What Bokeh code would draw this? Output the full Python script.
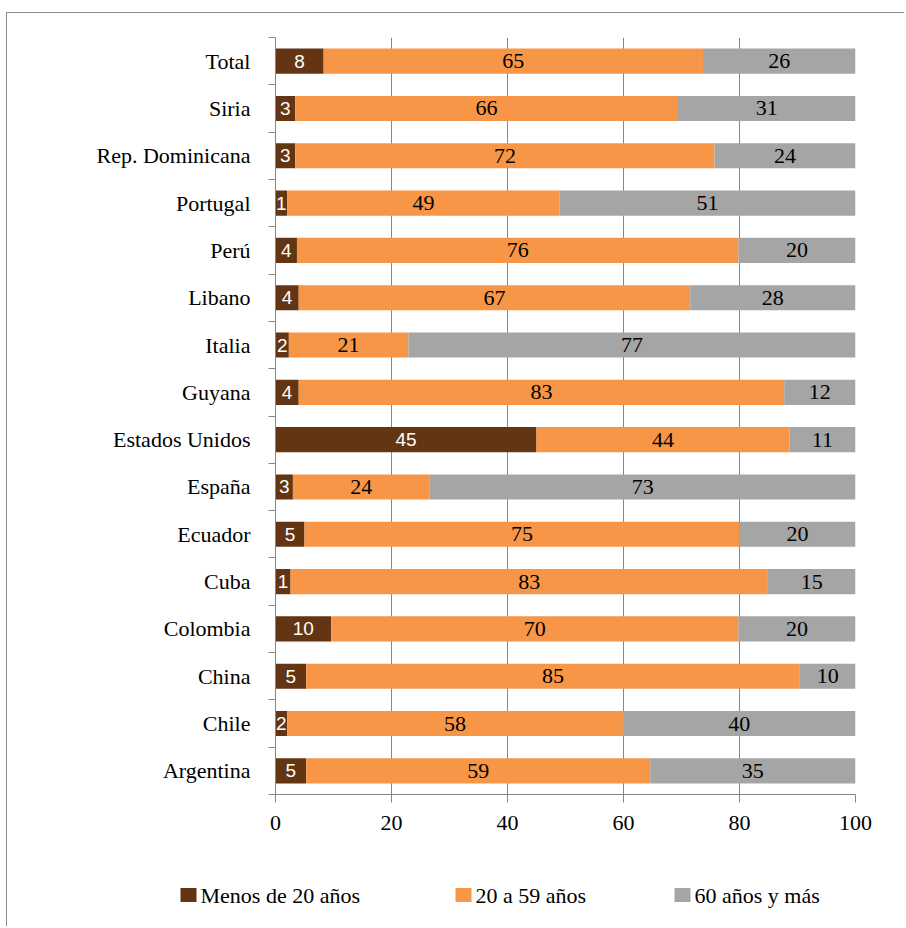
from bokeh.plotting import figure
from bokeh.models import ColumnDataSource, FixedTicker, Range1d
from bokeh.core.properties import value
from bokeh.embed import file_html
from bokeh.resources import INLINE

# ---- data (top to bottom as shown) ----
categories = ["Total", "Siria", "Rep. Dominicana", "Portugal", "Perú", "Libano", "Italia",
              "Guyana", "Estados Unidos", "España", "Ecuador", "Cuba", "Colombia", "China",
              "Chile", "Argentina"]

# bar shares (%) as drawn
menos20 = [8.3, 3.4, 3.4, 2.0, 3.7, 4.0, 2.3, 4.0, 45.0, 3.0, 5.0, 2.6, 9.6, 5.3, 2.0, 5.3]
de20a59 = [65.4, 66.0, 72.3, 47.0, 76.1, 67.5, 20.6, 83.7, 43.6, 23.6, 75.0, 82.3, 70.2, 85.1, 57.9, 59.3]
mas60 = [26.3, 30.6, 24.3, 51.0, 20.2, 28.5, 77.1, 12.3, 11.4, 73.4, 20.0, 15.1, 20.2, 9.6, 40.1, 35.4]

# printed values
menos20_lbl = [8, 3, 3, 1, 4, 4, 2, 4, 45, 3, 5, 1, 10, 5, 2, 5]
de20a59_lbl = [65, 66, 72, 49, 76, 67, 21, 83, 44, 24, 75, 83, 70, 85, 58, 59]
mas60_lbl = [26, 31, 24, 51, 20, 28, 77, 12, 11, 73, 20, 15, 20, 10, 40, 35]

series_names = ["Menos de 20 años", "20 a 59 años", "60 años y más"]
colors = ["#633513", "#F79646", "#A5A5A5"]
x_ticks = [0, 20, 40, 60, 80, 100]

n = len(categories)
ys = [n - 1 - i for i in range(n)]

l1 = [0.0] * n
r1 = [a for a in menos20]
l2 = r1
r2 = [a + b for a, b in zip(menos20, de20a59)]
l3 = r2
r3 = [a + b + c for a, b, c in zip(menos20, de20a59, mas60)]

src = ColumnDataSource(dict(
    y=ys, l1=l1, r1=r1, l2=l2, r2=r2, l3=l3, r3=r3,
    c1=[(a + b) / 2 for a, b in zip(l1, r1)],
    c2=[(a + b) / 2 for a, b in zip(l2, r2)],
    c3=[(a + b) / 2 for a, b in zip(l3, r3)],
    t1=[str(v) for v in menos20_lbl],
    t2=[str(v) for v in de20a59_lbl],
    t3=[str(v) for v in mas60_lbl],
))

GRAY = "#868686"
BORDER = "1px solid #8c8c8c"
SERIF = "Liberation Serif"
FS = "22px"

p = figure(width=898, height=837, output_backend="svg", toolbar_location=None,
           x_range=Range1d(0, 100), y_range=Range1d(-0.5, n - 0.5),
           min_border_left=268, min_border_right=50, min_border_top=24, min_border_bottom=56)
p.styles = {"margin-left": "6px", "margin-top": "12px",
            "border-left": BORDER, "border-top": BORDER}
p.outline_line_color = None
p.background_fill_color = "white"
p.border_fill_color = "white"

bh = 0.53
p.hbar(y="y", left="l1", right="r1", height=bh, color=colors[0], line_color=None, source=src)
p.hbar(y="y", left="l2", right="r2", height=bh, color=colors[1], line_color=None, source=src)
p.hbar(y="y", left="l3", right="r3", height=bh, color=colors[2], line_color=None, source=src)

p.text(x="c1", y="y", text="t1", source=src, text_align="center", text_baseline="middle",
       text_color="white", text_font=value("Liberation Sans"), text_font_size="19px")
p.text(x="c2", y="y", text="t2", source=src, text_align="center", text_baseline="middle",
       text_color="black", text_font=value(SERIF), text_font_size=FS)
p.text(x="c3", y="y", text="t3", source=src, text_align="center", text_baseline="middle",
       text_color="black", text_font=value(SERIF), text_font_size=FS)

# grid
p.ygrid.visible = False
p.xgrid.ticker = FixedTicker(ticks=x_ticks)
p.xgrid.grid_line_color = GRAY
p.xgrid.grid_line_width = 1

# x axis
xa = p.xaxis[0]
xa.ticker = FixedTicker(ticks=x_ticks)
xa.axis_line_color = GRAY
xa.major_tick_line_color = GRAY
xa.major_tick_out = 8
xa.major_tick_in = 0
xa.minor_tick_line_color = None
xa.major_label_text_font = SERIF
xa.major_label_text_font_size = FS
xa.major_label_text_color = "black"
xa.major_label_standoff = 13

# y axis
ya = p.yaxis[0]
ya.ticker = FixedTicker(ticks=ys, minor_ticks=[k - 0.5 for k in range(n + 1)])
ya.major_label_overrides = {y: c for y, c in zip(ys, categories)}
ya.axis_line_color = GRAY
ya.major_tick_line_color = None
ya.major_tick_out = 0
ya.major_tick_in = 0
ya.minor_tick_line_color = GRAY
ya.minor_tick_out = 7
ya.minor_tick_in = 0
ya.major_label_text_font = SERIF
ya.major_label_text_font_size = FS
ya.major_label_text_color = "black"
ya.major_label_standoff = 18

# ---- legend strip below the chart (pixel-scaled figure) ----
LW, LH = 898, 77
lf = figure(width=LW, height=LH, output_backend="svg", toolbar_location=None,
            x_range=Range1d(0, LW), y_range=Range1d(0, LH),
            x_axis_type=None, y_axis_type=None,
            min_border_left=0, min_border_right=0, min_border_top=0, min_border_bottom=0)
lf.styles = {"margin-left": "6px", "border-left": BORDER}
lf.outline_line_color = None
lf.grid.visible = False
lf.border_fill_color = "white"
lf.background_fill_color = "white"

swatch_left = [173, 448, 667]   # layout: left edge of each legend swatch (px)
leg = ColumnDataSource(dict(
    sx=[s + 8 for s in swatch_left],
    tx=[s + 20 for s in swatch_left],
    sy=[31.5] * 3, ty=[31] * 3,
    name=series_names, color=colors,
))
lf.rect(x="sx", y="sy", width=16, height=14, fill_color="color", line_color=None, source=leg)
lf.text(x="tx", y="ty", text="name", source=leg, text_align="left", text_baseline="middle",
        text_color="black", text_font=value(SERIF), text_font_size=FS)

open("out.html", "w").write(file_html([p, lf], INLINE))
